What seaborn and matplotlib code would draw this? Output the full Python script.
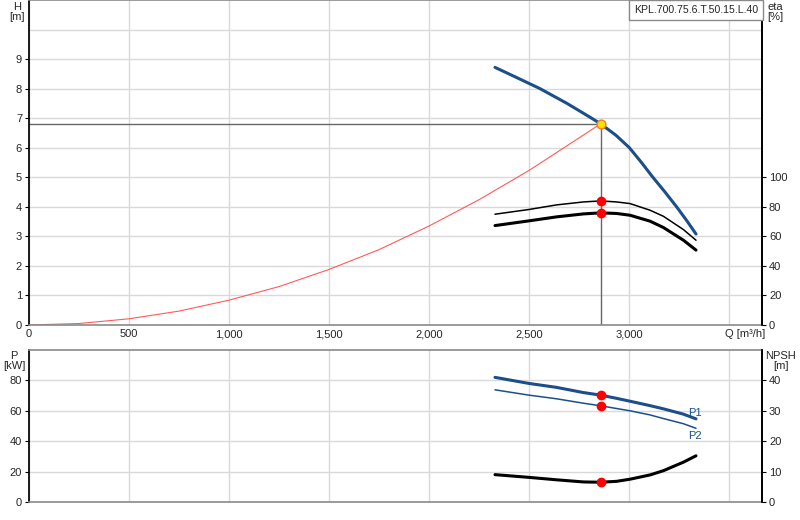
import matplotlib
matplotlib.use("Agg")
import matplotlib.pyplot as plt
import seaborn as sns
import pandas as pd

# Head curve
q_head = [2330, 2440, 2555, 2690, 2813, 2858, 2935, 3002, 3060, 3117, 3180, 3238, 3290, 3335]
head = [8.72, 8.37, 8.0, 7.5, 7.0, 6.81, 6.42, 6.0, 5.52, 5.02, 4.5, 4.0, 3.52, 3.08]

# Efficiency, power and NPSH curves
q_pump = [2330, 2500, 2638, 2772, 2858, 2938, 3005, 3105, 3172, 3272, 3335]
eta_hyd = [75.0, 78.2, 81.3, 83.3, 84.0, 83.3, 82.2, 77.7, 73.6, 64.6, 57.4]
eta_tot = [67.3, 70.5, 73.2, 75.2, 75.9, 75.5, 74.3, 70.3, 66.0, 57.4, 50.7]
p1 = [82.0, 78.0, 75.4, 72.0, 70.3, 68.2, 66.3, 63.4, 61.3, 57.8, 54.7]
p2 = [73.8, 70.3, 67.9, 65.0, 63.3, 61.5, 60.0, 57.3, 54.9, 51.5, 48.5]
npsh = [9.0, 8.1, 7.3, 6.6, 6.5, 6.8, 7.5, 8.9, 10.3, 13.1, 15.2]

# System curve
q_sys = [0, 250, 500, 750, 1000, 1250, 1500, 1750, 2000, 2250, 2500, 2750, 2858]
h_sys = [0, 0.05, 0.21, 0.47, 0.84, 1.30, 1.88, 2.55, 3.35, 4.24, 5.23, 6.33, 6.81]

# Duty point
q_op = 2858
h_op = 6.81
eta_hyd_op = 84.0
eta_tot_op = 75.9
p1_op = 70.3
p2_op = 63.3
npsh_op = 6.5

x_ticks = [0, 500, 1000, 1500, 2000, 2500, 3000]
x_tick_labels = ["0", "500", "1,000", "1,500", "2,000", "2,500", "3,000"]
title = "KPL.700.75.6.T.50.15.L.40"

sns.set_theme(style="white")
plt.rcParams["font.family"] = ["Liberation Sans", "DejaVu Sans"]
plt.rcParams["font.size"] = 8

BLUE = "#1b4f8a"
GRID = "#d9d9d9"
W, H = 800, 520

head_df = pd.DataFrame({"Q": q_head, "H": head})
pump = pd.DataFrame({"Q": q_pump, "eta_h": eta_hyd, "eta_t": eta_tot,
                     "P1": p1, "P2": p2, "NPSH": npsh})
system = pd.DataFrame({"Q": q_sys, "H": h_sys})

fig = plt.figure(figsize=(8, 5.2), dpi=100)
ax = fig.add_axes([29 / W, 1 - 325 / H, 733 / W, 325 / H])
ax_eta = ax.twinx()
bx = fig.add_axes([29 / W, 1 - 502 / H, 733 / W, 152 / H])
bx_npsh = bx.twinx()


def style_axes(a, r, ylim, yticks):
    a.set_xlim(0, 3665)
    a.set_ylim(*ylim)
    a.set_yticks(yticks)
    a.set_xticks([0, 500, 1000, 1500, 2000, 2500, 3000, 3500])
    a.grid(True, color=GRID, lw=1)
    a.set_axisbelow(True)
    for s in ("top", "bottom"):
        a.spines[s].set_color("#8a8a8a")
        a.spines[s].set_linewidth(1.2)
    a.spines["left"].set_color("black")
    a.spines["right"].set_color("black")
    a.tick_params(axis="y", length=3, width=0.8, pad=2, color="black", labelsize=8, left=True)
    a.tick_params(axis="x", length=0, pad=3, labelsize=8)
    r.tick_params(axis="y", length=3, width=0.8, pad=2, color="black", labelsize=8, right=True)
    r.spines["right"].set_color("black")
    for s in ("top", "bottom", "left"):
        r.spines[s].set_visible(False)


def line(data, y, a, color, lw):
    sns.lineplot(data=data, x="Q", y=y, ax=a, color=color, lw=lw,
                 sort=False, estimator=None)
    a.set_xlabel("")
    a.set_ylabel("")


# Top panel: head and efficiency
style_axes(ax, ax_eta, (0, 11), range(0, 10))
ax.axhline(10, color=GRID, lw=1, zorder=0)
ax.set_xticks(x_ticks + [3500])
ax.set_xticklabels(x_tick_labels + [""])
ax_eta.set_ylim(0, 220)
ax_eta.set_yticks(range(0, 101, 20))

line(system, "H", ax, "#ff5a5a", 0.8)
line(head_df, "H", ax, BLUE, 2.2)
line(pump, "eta_h", ax_eta, "black", 1.1)
line(pump, "eta_t", ax_eta, "black", 2.2)
ax.plot([0, q_op], [h_op, h_op], color="#666666", lw=1, zorder=1)
ax.plot([q_op, q_op], [0, h_op], color="#666666", lw=1, zorder=1)
ax.scatter([q_op], [h_op], s=40, color="#ffe000", edgecolor="#f08020", lw=1, zorder=5)
ax_eta.scatter([q_op, q_op], [eta_hyd_op, eta_tot_op], s=36, color="red", zorder=5)

# Bottom panel: power and NPSH
style_axes(bx, bx_npsh, (0, 100), range(0, 81, 20))
bx.set_xticklabels([])
bx_npsh.set_ylim(0, 50)
bx_npsh.set_yticks(range(0, 41, 10))

line(pump, "P1", bx, BLUE, 2.2)
line(pump, "P2", bx, BLUE, 1.1)
line(pump, "NPSH", bx_npsh, "black", 2.2)
bx.scatter([q_op, q_op], [p1_op, p2_op], s=36, color="red", zorder=5)
bx_npsh.scatter([q_op], [npsh_op], s=36, color="red", zorder=5)
bx.text(q_pump[-1] - 40, p1[-1] + 4, "P1", color=BLUE, fontsize=8, ha="left", va="center")
bx.text(q_pump[-1] - 40, p2[-1] - 5, "P2", color=BLUE, fontsize=8, ha="left", va="center")


def ftext(x, y, s, **kw):
    fig.text(x / W, 1 - y / H, s, **kw)


ftext(17, 12, "H\n[m]", fontsize=8, ha="center", va="center", linespacing=1.1)
ftext(775, 12, "eta\n[%]", fontsize=8, ha="center", va="center", linespacing=1.1)
ftext(745, 334, "Q [m³/h]", fontsize=8, ha="center", va="center")
ftext(14, 361, "P\n[kW]", fontsize=8, ha="center", va="center", linespacing=1.1)
ftext(781, 361, "NPSH\n[m]", fontsize=8, ha="center", va="center", linespacing=1.1)
ftext(696, 10, title, fontsize=7.6, ha="center", va="center",
      bbox=dict(boxstyle="square,pad=0.45", fc="white", ec="#8a8a8a", lw=1))

fig.savefig("out.png", dpi=100)
